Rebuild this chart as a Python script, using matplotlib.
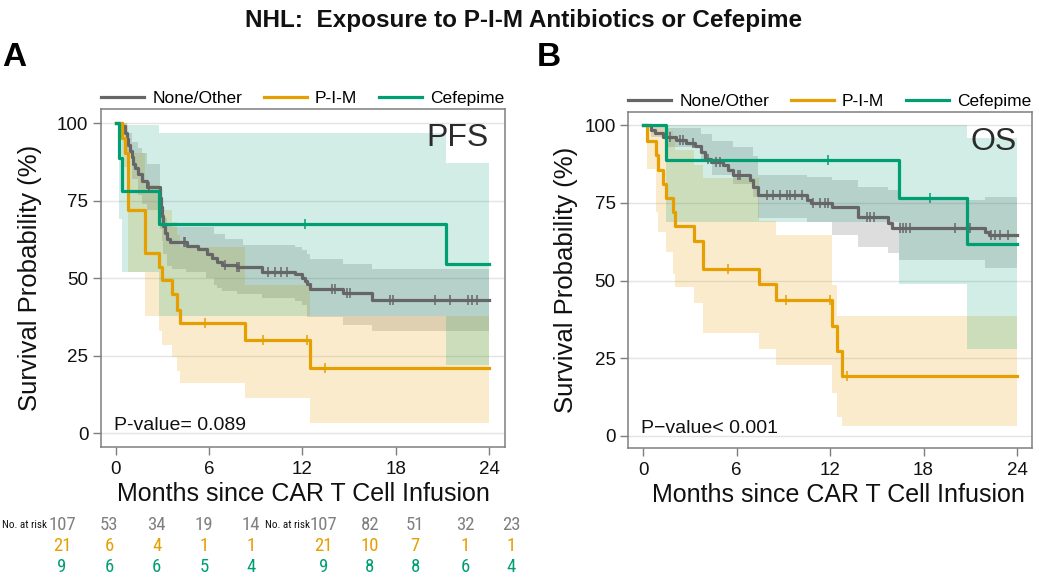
import numpy as np
import matplotlib
matplotlib.use("Agg")
import matplotlib.pyplot as plt
from matplotlib.lines import Line2D
from matplotlib import font_manager as fm
from matplotlib.font_manager import FontProperties

plt.rcParams['font.family'] = ['Liberation Sans', 'DejaVu Sans']

# ---------------- data ----------------
groups = ["None/Other", "P-I-M", "Cefepime"]
risk_times = [0, 6, 12, 18, 24]

# Panel A : PFS
pfs_none_t = [0, 0.40, 0.55, 0.70, 0.80, 0.90, 1.00, 1.10, 1.22, 1.40, 1.65, 1.97, 2.83, 2.90, 2.97, 3.05,
              3.15, 3.26, 3.47, 4.55, 5.30, 5.83, 6.16, 6.48, 6.80, 7.76, 9.37, 11.52, 11.95, 12.15, 12.27,
              12.48, 14.63, 16.45]
pfs_none_s = [100, 99, 97, 95, 93, 91, 89, 87, 85.5, 83.5, 81.4, 79.5, 76, 73, 70, 67, 64.5, 62.7, 61.6,
              60.5, 59.4, 57.8, 56.7, 55.2, 54.4, 53.5, 52.1, 51.3, 50.2, 49.1, 48.2, 46.6, 45.2, 43.1]
pfs_none_cens = [2.14, 4.35, 4.45, 7.0, 7.8, 7.9, 9.8, 10.2, 10.6, 11.0, 13.88, 14.09, 14.85, 15.06,
                 17.63, 17.84, 20.5, 21.5, 22.67, 22.9, 23.2]
pfs_none_ci_t = [0, 0.40, 0.70, 1.00, 1.40, 1.65, 1.97, 2.83, 2.97, 3.05, 3.30, 3.60, 4.50, 5.80, 6.30,
                 6.50, 6.80, 7.00, 7.80, 8.20, 9.40, 11.50, 12.00, 12.30, 12.50, 14.60, 16.50]
pfs_none_hi = [100, 100, 97, 94, 92, 90.5, 87, 76, 73, 69.6, 67.5, 66.5, 66.5, 66.5, 64.4, 64.4, 64.4,
               62.8, 62.8, 60.6, 60.6, 60, 59, 58, 56.3, 54.7, 53]
pfs_none_lo = [100, 97, 90, 82, 77, 74, 72, 66, 62, 58, 54, 53, 52, 50, 48, 47, 46, 46, 44.8, 44.8, 43.6,
               42.8, 41.5, 37.5, 37.5, 35, 32.9]

pfs_pim_t = [0, 0.40, 0.55, 0.79, 1.87, 2.79, 2.95, 3.58, 3.90, 4.10, 8.30, 12.48]
pfs_pim_s = [100, 95.2, 90.5, 72, 58.3, 53.5, 49.3, 44.8, 39.9, 35.6, 30, 21.2]
pfs_pim_cens = [5.73, 9.48, 12.27, 13.45]
pfs_pim_ci_t = [0, 0.40, 0.79, 1.87, 2.79, 2.95, 3.58, 3.90, 4.10, 8.30, 12.48]
pfs_pim_hi = [100, 100, 90.5, 80, 76, 72, 68, 64, 60, 48, 38]
pfs_pim_lo = [100, 86, 52, 38, 33, 28.4, 24.6, 20, 16.1, 11.3, 3.2]

pfs_cef_t = [0, 0.20, 0.40, 2.79, 21.24]
pfs_cef_s = [100, 88.9, 78, 67.5, 54.7]
pfs_cef_cens = [12.16]
pfs_cef_ci_t = [0, 0.20, 0.40, 2.79, 21.24]
pfs_cef_hi = [100, 100, 99.5, 97, 87.3]
pfs_cef_lo = [100, 69.2, 52, 38, 22]

pfs_risk = [[107, 53, 34, 19, 14], [21, 6, 4, 1, 1], [9, 6, 6, 5, 4]]

# Panel B : OS
os_none_t = [0, 0.54, 0.75, 1.29, 2.14, 2.79, 3.32, 3.75, 3.96, 4.39, 5.14, 5.46, 5.79, 6.86, 7.07, 7.39,
             10.5, 10.8, 12.1, 13.8, 15.75, 15.96, 21.97, 22.18]
os_none_s = [100, 98.4, 97.3, 96, 95.2, 94.3, 93.2, 91.4, 89, 88.2, 87.1, 85.5, 83.9, 82.3, 80.2, 77.5,
             75.9, 74.8, 73.5, 70.3, 68.4, 66.8, 65.7, 64.6]
os_none_cens = [1.71, 2.36, 2.57, 3.21, 4.18, 4.71, 4.93, 6.11, 6.21, 7.93, 8.36, 8.79, 9.21, 9.43, 9.75,
                10.18, 10.93, 11.36, 11.68, 11.89, 14.36, 14.57, 14.79, 16.5, 16.7, 16.9, 17.1, 20.0, 21.0,
                22.3, 22.6, 22.9, 23.4]
os_none_ci_t = [0, 0.54, 1.5, 3.75, 4.4, 5.8, 7.07, 7.39, 10.5, 12.1, 13.8, 15.75, 16.44, 21.97]
os_none_hi = [100, 100, 99, 97, 95, 93, 90, 84, 83.4, 82.3, 80, 79, 76, 77]
os_none_lo = [100, 96, 93, 88, 84, 81, 77, 70, 68.9, 64.6, 60.9, 58.7, 56.6, 53.9]

os_pim_t = [0, 0.28, 0.86, 0.96, 1.29, 1.46, 1.93, 2.08, 3.26, 3.86, 7.44, 8.53, 12.1, 12.43, 12.79]
os_pim_s = [100, 94.9, 90.4, 85.7, 81.2, 76.7, 72.1, 67.5, 62.8, 53.6, 48.8, 43.7, 35.4, 27.4, 19.4]
os_pim_cens = [5.46, 9.17, 12.0, 13.07]
os_pim_ci_t = [0, 0.28, 0.86, 0.96, 1.46, 1.93, 2.08, 3.26, 3.86, 7.44, 8.53, 12.1, 12.43, 12.79]
os_pim_hi = [100, 100, 100, 100, 98, 96, 92, 87, 83, 69, 64.6, 48.6, 38.6, 38.6]
os_pim_lo = [100, 86, 72, 65.7, 59.3, 52, 48, 42.9, 33, 27.9, 22.8, 13.7, 6.2, 3.2]

os_cef_t = [0, 1.5, 16.44, 20.8]
os_cef_s = [100, 88.7, 76.6, 61.9]
os_cef_cens = [11.9, 18.4]
os_cef_ci_t = [0, 1.5, 16.44, 20.8]
os_cef_hi = [100, 100, 100, 95.7]
os_cef_lo = [100, 68.9, 48.9, 27.9]

os_risk = [[107, 82, 51, 32, 23], [21, 10, 7, 1, 1], [9, 8, 8, 6, 4]]

# ---------------- style ----------------
colors = ["#666666", "#E69F00", "#009E73"]
risk_colors = ["#808080", "#E69F00", "#009E73"]
TMAX = 24


def pick_narrow_font():
    """Find an installed narrow / condensed sans font, if any."""
    good = []
    for f in fm.fontManager.ttflist:
        nm = f.name
        if 'Mono' in nm or 'Serif' in nm or 'CJK' in nm:
            continue
        if f.style != 'normal':
            continue
        w = f.weight if isinstance(f.weight, int) else {'normal': 400, 'regular': 400}.get(str(f.weight), 700)
        if w not in (400,):
            continue
        st = f.stretch
        narrowish = ('Narrow' in nm or 'Condensed' in nm or 'Condensed' in f.fname
                     or st in ('condensed', 'semi-condensed', 'extra-condensed', 'ultra-condensed')
                     or (isinstance(st, int) and st < 500))
        if narrowish:
            good.append(f)
    pref = ['Liberation Sans Narrow', 'Roboto Condensed', 'Open Sans', 'Noto Sans', 'DejaVu Sans']
    good.sort(key=lambda f: next((i for i, p in enumerate(pref) if p in f.name), 99))
    return good[0].fname if good else None


narrow_file = pick_narrow_font()


def risk_font(size):
    if narrow_file:
        return FontProperties(fname=narrow_file, size=size)
    return FontProperties(family='Liberation Sans', size=size * 0.85)


fig = plt.figure(figsize=(10.5, 5.82), dpi=100)


def px_axes(l, t, r, b):
    return fig.add_axes([l / 1050, 1 - b / 582, (r - l) / 1050, (b - t) / 582])


def band(ax, t, lo, hi, color, alpha):
    tt = list(t) + [TMAX]
    ax.fill_between(tt, list(lo) + [lo[-1]], list(hi) + [hi[-1]], step='post',
                    color=color, alpha=alpha, lw=0, zorder=1)


def km(ax, t, s, cens, color):
    tt = list(t) + [TMAX]
    ss = list(s) + [s[-1]]
    ax.step(tt, ss, where='post', color=color, lw=2.3, zorder=3)
    idx = np.searchsorted(np.asarray(t), np.asarray(cens), side='right') - 1
    cy = np.asarray(s)[idx]
    ax.plot(cens, cy, ls='none', marker='|', ms=7, mew=1.1, color=color, zorder=4)


def style_axes(ax, xlim, ylim):
    ax.set_xlim(*xlim)
    ax.set_ylim(*ylim)
    ax.set_xticks(risk_times)
    ax.set_yticks([0, 25, 50, 75, 100])
    for sp in ax.spines.values():
        sp.set_color('#7f7f7f')
        sp.set_linewidth(1.1)
    ax.tick_params(direction='out', length=6, width=1, color='#7f7f7f', labelsize=13.5,
                   labelcolor='#111111')
    ax.tick_params(axis='x', pad=4)
    ax.tick_params(axis='y', pad=3)
    ax.yaxis.grid(True, color='#e4e4e4', lw=1)
    ax.set_axisbelow(True)
    ax.set_ylabel("Survival Probability (%)", fontsize=18.5, color='#111111')
    ax.set_xlabel("Months since CAR T Cell Infusion", fontsize=18, color='#111111')
    handles = [Line2D([], [], color=c, lw=2.3) for c in colors]
    ax.legend(handles, groups, loc='lower left', bbox_to_anchor=(0, 1.01), ncol=3, frameon=False,
              fontsize=12.5, handlelength=2.5, handletextpad=0.45, columnspacing=1.25,
              borderpad=0, borderaxespad=0)


def panel(ax, data):
    alphas = [0.22, 0.2, 0.18]
    for (t, s, cens, ct, lo, hi), c, a in zip(data, colors, alphas):
        band(ax, ct, lo, hi, c, a)
    for (t, s, cens, ct, lo, hi), c in zip(data, colors):
        km(ax, t, s, cens, c)


# Panel A
axA = px_axes(101, 109, 505, 447)
panel(axA, [
    (pfs_none_t, pfs_none_s, pfs_none_cens, pfs_none_ci_t, pfs_none_lo, pfs_none_hi),
    (pfs_pim_t, pfs_pim_s, pfs_pim_cens, pfs_pim_ci_t, pfs_pim_lo, pfs_pim_hi),
    (pfs_cef_t, pfs_cef_s, pfs_cef_cens, pfs_cef_ci_t, pfs_cef_lo, pfs_cef_hi),
])
style_axes(axA, (-0.965, 25.03), (-4.4, 104.6))
axA.yaxis.set_label_coords(-0.145, 0.5)
axA.xaxis.set_label_coords(0.5, -0.105)
axA.text(24, 100, "PFS", fontsize=23, color='#2b2b2b', ha='right', va='top')
axA.text(-0.1, 2.5, "P-value= 0.089", fontsize=14, color='#111111', ha='left', va='center')

# Panel B
axB = px_axes(628, 112, 1032, 448)
panel(axB, [
    (os_none_t, os_none_s, os_none_cens, os_none_ci_t, os_none_lo, os_none_hi),
    (os_pim_t, os_pim_s, os_pim_cens, os_pim_ci_t, os_pim_lo, os_pim_hi),
    (os_cef_t, os_cef_s, os_cef_cens, os_cef_ci_t, os_cef_lo, os_cef_hi),
])
style_axes(axB, (-0.963, 24.96), (-3.86, 104.2))
axB.yaxis.set_label_coords(-0.125, 0.5)
axB.xaxis.set_label_coords(0.52, -0.105)
axB.text(24, 99.5, "OS", fontsize=23, color='#2b2b2b', ha='right', va='top')
axB.text(-0.1, 2.5, "P\u2212value< 0.001", fontsize=14, color='#111111', ha='left', va='center')

# titles
fig.text(524 / 1050, 1 - 20 / 582, "NHL:  Exposure to P-I-M Antibiotics or Cefepime",
         fontsize=17.5, fontweight='bold', ha='center', va='center', color='#111111')
fig.text(2 / 1050, 1 - 57 / 582, "A", fontsize=24, fontweight='bold', ha='left', va='center')
fig.text(537 / 1050, 1 - 57 / 582, "B", fontsize=24, fontweight='bold', ha='left', va='center')

# number at risk tables
row_y = [524.5, 545.8, 567]


def risk_table(label_right, xs, risk):
    fig.text(label_right / 1050, 1 - row_y[0] / 582, "No. at risk", ha='right',
             va='center', color='#111111', fontproperties=risk_font(8))
    for r, (vals, c) in enumerate(zip(risk, risk_colors)):
        for x, v in zip(xs, vals):
            fig.text(x / 1050, 1 - row_y[r] / 582, str(v), ha='center', va='center',
                     color=c, fontproperties=risk_font(13.5))


risk_table(47, [62, 109, 156.7, 204, 251], pfs_risk)
risk_table(310, [323.5, 369.7, 415.3, 465, 511], os_risk)

fig.savefig("out.png", dpi=100)
